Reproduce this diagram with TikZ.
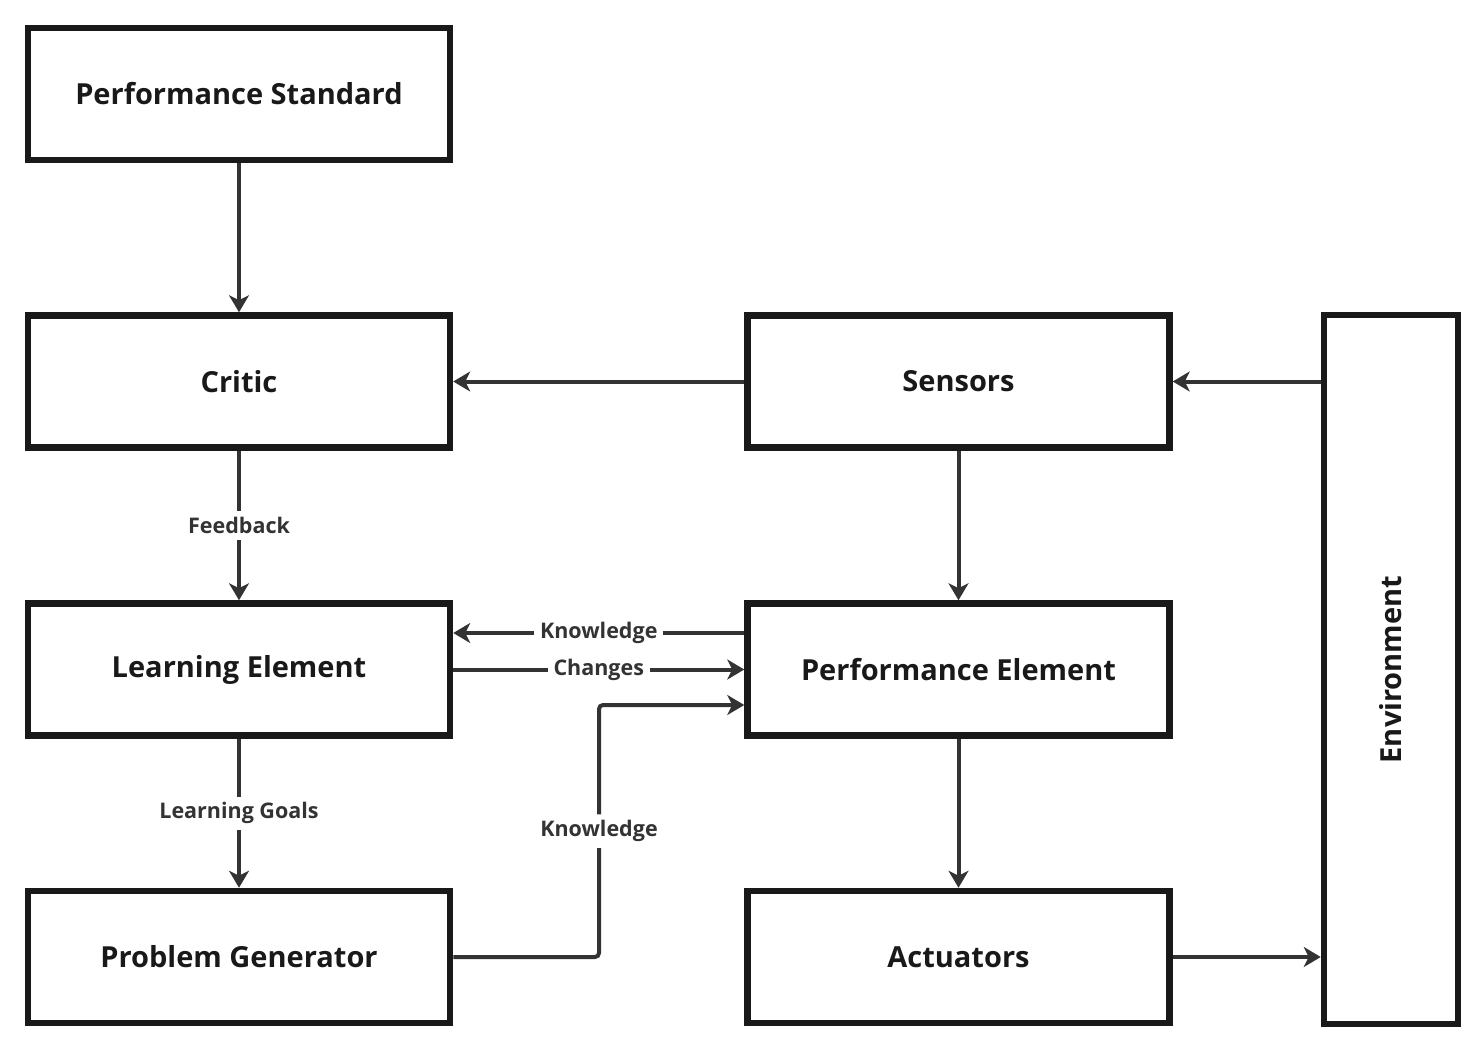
\documentclass[tikz,border=0pt]{standalone}
\usepackage{fontspec}
\setmainfont{Open Sans}
\usetikzlibrary{arrows.meta}

\begin{document}
\begin{tikzpicture}[x=1pt,y=-1pt,
		block/.style={draw=black!90, line width=6.5pt, minimum width=422pt, minimum height=132pt, inner sep=0pt, font=\fontsize{29}{34}\selectfont\bfseries, text=black!90},
		link/.style={->,>={Stealth[length=17pt,width=20pt,inset=5pt]}, line width=4pt, draw=black!80},
		tag/.style={fill=white, inner sep=6pt, text=black!80, font=\fontsize{21.5}{25}\selectfont\bfseries}]
		\useasboundingbox (0,0) rectangle (1484,1052);

		\node[block] (standard) at (239,94) {Performance Standard};
		\node[block] (critic) at (239,381.5) {Critic};
		\node[block] (learning) at (239,669.5) {Learning Element};
		\node[block] (generator) at (239,957) {Problem Generator};

		\node[block] (sensors) at (958.5,381.5) {Sensors};
		\node[block] (performance) at (958.5,669.5) {Performance Element};
		\node[block] (actuators) at (958.5,957) {Actuators};

		\node[block, minimum width=134pt, minimum height=709pt] (environment) at (1391,669.5) {};
		\node[rotate=90, font=\fontsize{29}{34}\selectfont\bfseries, text=black!90] at (environment.center) {Environment};

		\draw [link] (standard) -- (critic);
		\draw [link] (critic) -- (learning) node[tag, pos=0.5]{Feedback};
		\draw [link] (learning) -- (generator) node[tag, pos=0.5]{Learning Goals};

		\draw [link] (environment.west |- sensors) -- (sensors);
		\draw [link] (sensors) -- (critic);
		\draw [link] (sensors) -- (performance);
		\draw [link] (performance) -- (actuators);
		\draw [link] (actuators) -- (environment.west |- actuators);

		\draw [link] (performance.west |- 0,633) -- (learning.east |- 0,633) node[tag, pos=0.5]{Knowledge};
		\draw [link] (learning) -- (performance) node[tag, pos=0.5]{Changes};
		\draw [link, rounded corners=4pt] (generator) -- (599,957) -- (599,705) node[tag, pos=0.5]{Knowledge} -- (performance.west |- 0,705);
	\end{tikzpicture}
\end{document}
